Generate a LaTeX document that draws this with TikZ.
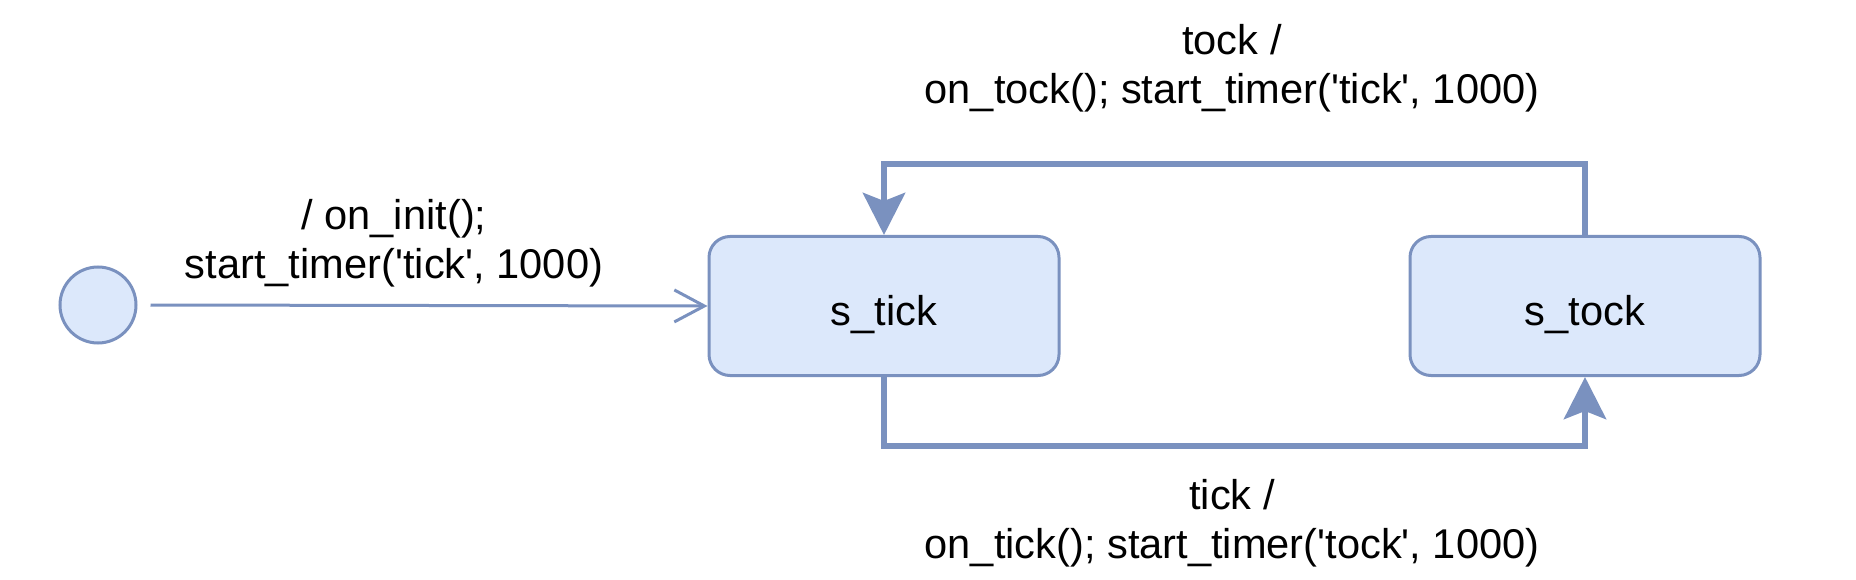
\documentclass[tikz,border=0pt]{standalone}
\usepackage{fontspec}
\setmainfont{Liberation Sans}
\usetikzlibrary{arrows.meta}
\definecolor{stateline}{HTML}{7A91BF}
\definecolor{statefill}{HTML}{DCE8FB}
\newcommand{\sq}{\textquotesingle}

\begin{document}
\begin{tikzpicture}[x=1pt, y=-1pt, font=\fontsize{41.6}{49}\selectfont,
    statebox/.style={draw=stateline, fill=statefill, line width=3pt, rounded corners=21pt,
        minimum width=350pt, minimum height=139pt, inner sep=0pt, text height=38pt, text depth=0pt},
    startdot/.style={circle, draw=stateline, fill=statefill, line width=3pt, minimum size=76pt, inner sep=0pt},
    trans/.style={draw=stateline, line width=6.5pt, -{Stealth[length=42pt, width=42pt, inset=8pt]}},
    opentrans/.style={draw=stateline, line width=3pt, -{Straight Barb[length=30pt, width=32pt]}},
    translabel/.style={align=center, inner sep=0pt}]
    \useasboundingbox (0,0) rectangle (1856,580);

    % States
    \node[startdot] (start) at (98,305) {};
    \node[statebox] (tick) at (884,306) {s\_tick};
    \node[statebox] (tock) at (1585,306) {s\_tock};

    % Labels
    \node[translabel] (initlabel) at (394,243.5) {/ on\_init();\\start\_timer(\sq tick\sq, 1000)};
    \node[translabel] (tocklabel) at (1232,68.5) {tock /\\on\_tock(); start\_timer(\sq tick\sq, 1000)};
    \node[translabel] (ticklabel) at (1232,523.5) {tick /\\on\_tick(); start\_timer(\sq tock\sq, 1000)};

    % Transitions
    \draw[opentrans] ([xshift=13pt]start.east) -- (tick.west);
    \draw[trans] (tick.south) -- ++(0,69) -| (tock.south);
    \draw[trans] (tock.north) -- ++(0,-71) -| (tick.north);
\end{tikzpicture}
\end{document}
